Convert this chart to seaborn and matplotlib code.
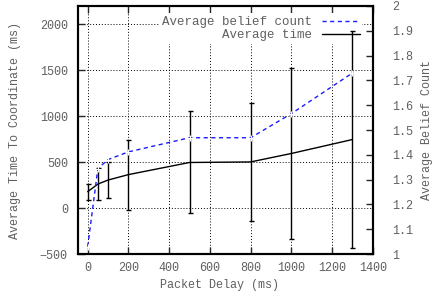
import matplotlib
matplotlib.use("Agg")
import matplotlib.pyplot as plt
import numpy as np
import seaborn as sns

# values
delay = [0, 50, 100, 200, 500, 800, 1000, 1300]
time_mean = [180, 262, 306, 365, 497, 503, 595, 747]
time_err = [88, 170, 200, 380, 555, 640, 930, 1180]
belief = [1.03, 1.345, 1.381, 1.412, 1.469, 1.469, 1.566, 1.730]

x_ticks = list(range(0, 1401, 200))
y_ticks = list(range(-500, 2001, 500))
belief_ticks = [round(1 + 0.1 * i, 1) for i in range(11)]

TEXT = "#606060"
FS = 8.5

sns.set_style("ticks")
plt.rcParams["font.family"] = ["Liberation Mono", "DejaVu Sans Mono"]
plt.rcParams["font.size"] = FS

fig = plt.figure(figsize=(4.33, 3.0), dpi=100)
ax = fig.add_axes([0.179, 0.153, 0.682, 0.827])
ax2 = ax.twinx()

grid_kw = dict(color="black", linestyle=(0, (1, 2)), linewidth=0.7)
for v in x_ticks:
    ax.axvline(v, zorder=0, **grid_kw)
for v in y_ticks:
    ax.axhline(v, zorder=0, **grid_kw)

ax.errorbar(delay, time_mean, yerr=time_err, fmt="none", ecolor="black",
            elinewidth=1.0, capsize=1.8, capthick=1.0, zorder=3)
sns.lineplot(x=delay, y=time_mean, ax=ax, color="black", linewidth=1.0,
             label="Average time", legend=False, zorder=3)
sns.lineplot(x=delay, y=belief, ax=ax2, color="#1a1aff", linewidth=1.0,
             linestyle=(0, (3, 2.5)), marker="+", markersize=4,
             markeredgewidth=0.8, label="Average belief count", legend=False)

ax.set_xlim(-50, 1400)
ax.set_ylim(-500, 2200)
ax2.set_ylim(1, 2)
ax.set_xticks(x_ticks)
ax.set_yticks(y_ticks)
ax2.set_yticks(belief_ticks)
ax2.set_yticklabels([f"{t:g}" for t in belief_ticks])

ax.tick_params(axis="x", direction="in", top=True, length=5, width=1,
               labelsize=FS, labelcolor=TEXT, pad=6)
ax.tick_params(axis="y", direction="in", right=False, length=5, width=1,
               labelsize=FS, labelcolor=TEXT, pad=7)
ax2.tick_params(axis="y", direction="in", length=5, width=1,
                labelsize=FS, labelcolor=TEXT, pad=14)
for t in ax2.get_yticklabels():
    t.set_horizontalalignment("left")

for a in (ax, ax2):
    for s in a.spines.values():
        s.set_linewidth(1.5)
        s.set_color("black")

ax.set_xlabel("Packet Delay (ms)", color=TEXT, fontsize=FS)
ax.set_ylabel("Average Time To Coordinate (ms)", color=TEXT, fontsize=FS)
ax2.set_ylabel("Average Belief Count", color=TEXT, fontsize=FS, rotation=90)
ax.xaxis.set_label_coords(0.48, -0.10)
ax.yaxis.set_label_coords(-0.193, 0.5)
ax2.yaxis.set_label_coords(1.163, 0.5)

# legend sits on the lower axes, above the grid but below the data lines
h1, l1 = ax2.get_legend_handles_labels()
h2, l2 = ax.get_legend_handles_labels()
leg = ax.legend(h1 + h2, l1 + l2, loc="upper right",
                bbox_to_anchor=(0.965, 0.97), markerfirst=False,
                frameon=True, fancybox=False, framealpha=1.0,
                facecolor="white", edgecolor="none", fontsize=9,
                handlelength=3.0, handletextpad=0.8, labelspacing=0.1,
                borderpad=0.2, borderaxespad=0)
leg.set_zorder(2)
for t in leg.get_texts():
    t.set_color(TEXT)
for h in leg.legend_handles:
    h.set_marker("")

fig.savefig("out.png", dpi=100)
